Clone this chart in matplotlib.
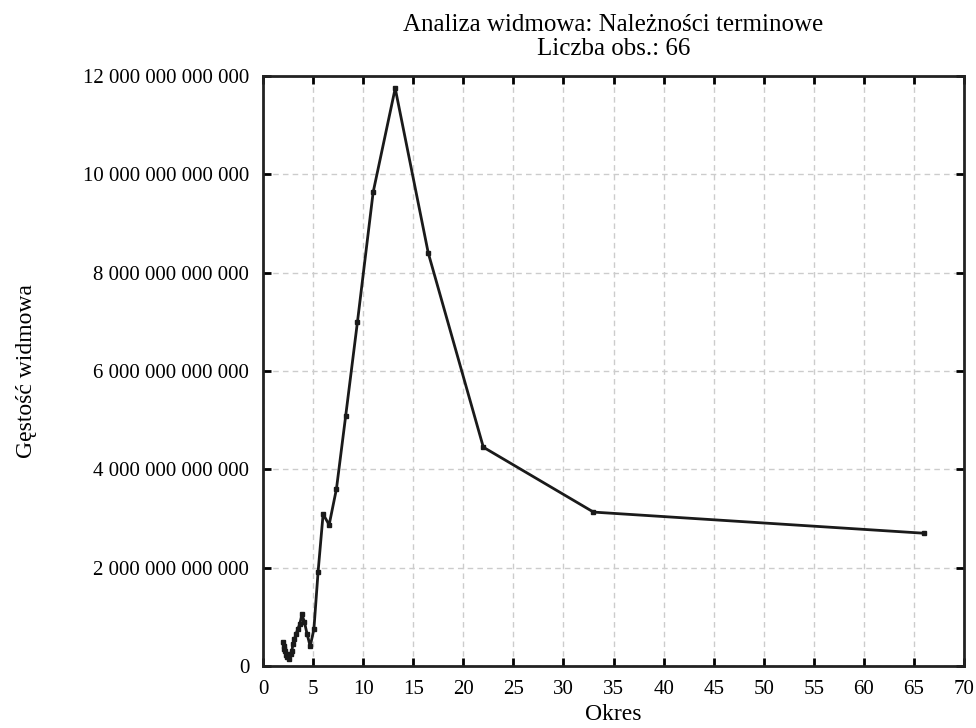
import matplotlib.pyplot as plt
from matplotlib.ticker import FuncFormatter
import numpy as np

# okres (66/k) i gęstość widmowa [x 1e12]
okres = [66.0, 33.0, 22.0, 16.5, 13.2, 11.0, 9.43, 8.25, 7.33, 6.6, 6.0, 5.5,
         5.08, 4.71, 4.4, 4.125, 3.88, 3.67, 3.47, 3.3, 3.14, 3.0, 2.87, 2.75,
         2.64, 2.54, 2.44, 2.36, 2.28, 2.2, 2.13, 2.06, 2.0]
gestosc = [2.70, 3.13, 4.45, 8.40, 11.75, 9.64, 7.00, 5.08, 3.60, 2.87, 3.09, 1.92,
           0.75, 0.40, 0.65, 0.90, 1.05, 0.85, 0.75, 0.65, 0.55, 0.45, 0.30, 0.25,
           0.15, 0.20, 0.25, 0.18, 0.22, 0.30, 0.35, 0.40, 0.48]

title = "Analiza widmowa: Należności terminowe\nLiczba obs.: 66"

plt.rcParams['font.family'] = ['Liberation Serif', 'DejaVu Serif']

fig = plt.figure(figsize=(9.76, 7.28), dpi=100)
ax = fig.add_axes([0.2695, 0.0852, 0.7182, 0.8104])

y = np.array(gestosc) * 1e12
ax.plot(okres, y, color='#1a1a1a', linewidth=2, marker='s', markersize=3)

ax.set_xlim(0, 70)
ax.set_ylim(0, 12e12)
ax.set_xticks(np.arange(0, 71, 5))
ax.set_yticks(np.arange(0, 12.1e12, 2e12))
ax.yaxis.set_major_formatter(FuncFormatter(lambda v, p: f"{int(round(v)):,}".replace(",", " ")))

ax.grid(True, linestyle=(0, (4, 3)), color='#cccccc', linewidth=1)
ax.tick_params(direction='in', length=6, width=2, labelsize=15, top=True, right=True, pad=10)
for s in ax.spines.values():
    s.set_linewidth(2)
    s.set_color('#222222')

ax.set_xlabel('Okres', fontsize=17, labelpad=4)
fig.text(0.027, 0.49, 'Gęstość widmowa', rotation=90, fontsize=17, ha='center', va='center')
ax.set_title(title, fontsize=18, linespacing=1.15, pad=15)

fig.savefig('out.png', dpi=100)
